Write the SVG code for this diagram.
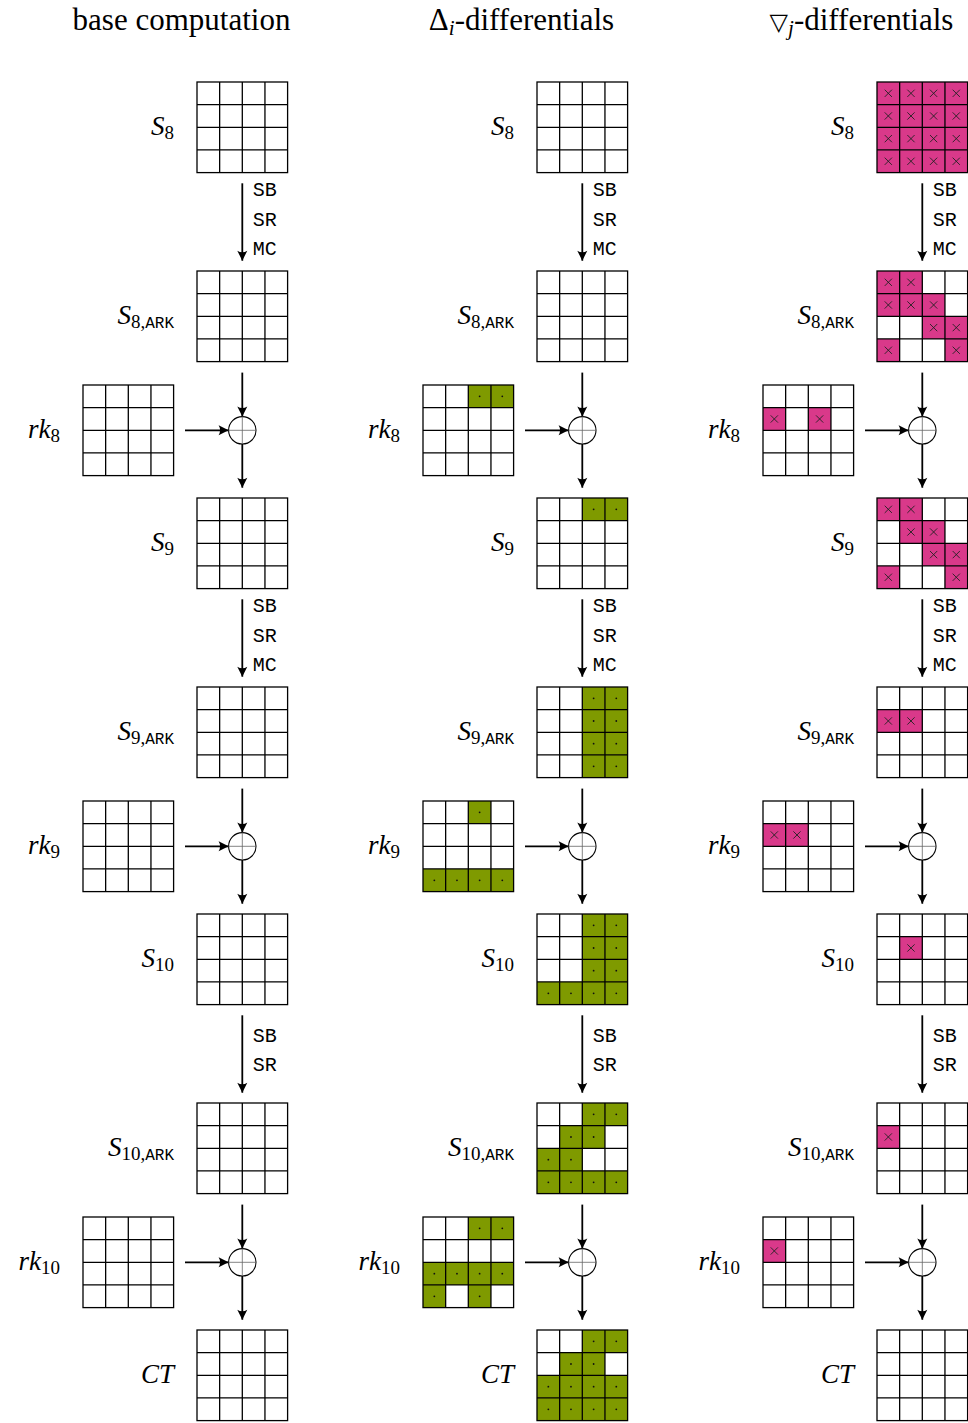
<svg xmlns="http://www.w3.org/2000/svg" xmlns:xlink="http://www.w3.org/1999/xlink" width="968" height="1423" viewBox="0 0 968 1423">
<style>
.ln{stroke:#000;stroke-width:1.3;fill:none}
.arr{stroke:#000;stroke-width:1.8;fill:none;marker-end:url(#ah)}
.op{font-family:"Liberation Mono",monospace;font-size:20px;fill:#000}
.lbl{font-family:"Liberation Serif",serif;font-size:27px;font-style:italic;fill:#000}
.sub{font-style:normal;font-size:19px}
.tt{font-family:"Liberation Mono",monospace;font-style:normal;font-size:16px}
.ttl{font-family:"Liberation Serif",serif;font-size:31px;fill:#000}
.xor{fill:#fff;stroke:#000;stroke-width:1.1}
.xc{stroke:#666;stroke-width:0.8}
.pk{fill:#d9398a}
.gr{fill:#7f9a00}
.mk{stroke:#222;stroke-width:0.9}
</style>
<defs>
<marker id="ah" viewBox="-11 -6 12 12" refX="0" refY="0" markerWidth="12" markerHeight="12" markerUnits="userSpaceOnUse" orient="auto"><path d="M0,0 L-10,-5 Q-7,0 -10,5 Z" fill="#000"/></marker>
<g id="grid"><rect width="90.6" height="90.6" fill="none" class="ln"/><path class="ln" d="M22.65 0V90.6M45.3 0V90.6M67.95 0V90.6M0 22.65H90.6M0 45.3H90.6M0 67.95H90.6"/></g>
<g id="pc"><rect class="pk" width="22.65" height="22.65"/><path class="mk" d="M7.7,7.7L14.95,14.95M7.7,14.95L14.95,7.7"/></g>
<g id="gc"><rect class="gr" width="22.65" height="22.65"/><circle cx="11.33" cy="11.33" r="0.9" fill="#111"/></g>
</defs>
<rect width="968" height="1423" fill="#fff"/>
<g id="titles">
<text class="ttl" x="181.5" y="30" text-anchor="middle">base computation</text>
<text class="ttl" x="521.5" y="30" text-anchor="middle">Δ<tspan font-style="italic" font-size="21" dy="5">i</tspan><tspan dy="-5">-differentials</tspan></text>
<text class="ttl" x="861.5" y="30" text-anchor="middle"><tspan font-family="DejaVu Sans" font-size="24">▽</tspan><tspan font-style="italic" font-size="21" dy="5">j</tspan><tspan dy="-5">-differentials</tspan></text>
</g>
<g id="connectors">
<g id="c1">
<path class="arr" d="M242.3 183.3V260.7"/>
<path class="arr" d="M242.3 372.6V416.6"/>
<path class="arr" d="M185 430.3H228.6"/>
<path class="arr" d="M242.3 444V487.7"/>
<path class="arr" d="M242.3 599.3V676.7"/>
<path class="arr" d="M242.3 788.6V832.6"/>
<path class="arr" d="M185 846.3H228.6"/>
<path class="arr" d="M242.3 860V903.7"/>
<path class="arr" d="M242.3 1015.3V1092.7"/>
<path class="arr" d="M242.3 1204.6V1248.6"/>
<path class="arr" d="M185 1262.3H228.6"/>
<path class="arr" d="M242.3 1276V1319.7"/>
<circle class="xor" cx="242.3" cy="430.3" r="13.7"/><path class="xc" d="M228.6 430.3H256M242.3 416.6V444"/>
<circle class="xor" cx="242.3" cy="846.3" r="13.7"/><path class="xc" d="M228.6 846.3H256M242.3 832.6V860"/>
<circle class="xor" cx="242.3" cy="1262.3" r="13.7"/><path class="xc" d="M228.6 1262.3H256M242.3 1248.6V1276"/>
<text class="op" x="252.7" y="196">SB</text><text class="op" x="252.7" y="225.5">SR</text><text class="op" x="252.7" y="255">MC</text>
<text class="op" x="252.7" y="612">SB</text><text class="op" x="252.7" y="641.5">SR</text><text class="op" x="252.7" y="671">MC</text>
<text class="op" x="252.7" y="1042">SB</text><text class="op" x="252.7" y="1071">SR</text>
</g>
<use xlink:href="#c1" href="#c1" x="340"/>
<use xlink:href="#c1" href="#c1" x="680"/>
</g>
<g id="col1">
<g id="b-S8"><use href="#grid" x="197" y="82"/><text class="lbl" x="174" y="135.3" text-anchor="end">S<tspan class="sub" dy="4">8</tspan></text></g>
<g id="b-S8ARK"><use href="#grid" x="197" y="271"/><text class="lbl" x="174" y="324.3" text-anchor="end">S<tspan class="sub" dy="4">8,</tspan><tspan class="tt">ARK</tspan></text></g>
<g id="b-rk8"><use href="#grid" x="83" y="385"/><text class="lbl" x="60" y="438.3" text-anchor="end">rk<tspan class="sub" dy="4">8</tspan></text></g>
<g id="b-S9"><use href="#grid" x="197" y="498"/><text class="lbl" x="174" y="551.3" text-anchor="end">S<tspan class="sub" dy="4">9</tspan></text></g>
<g id="b-S9ARK"><use href="#grid" x="197" y="687"/><text class="lbl" x="174" y="740.3" text-anchor="end">S<tspan class="sub" dy="4">9,</tspan><tspan class="tt">ARK</tspan></text></g>
<g id="b-rk9"><use href="#grid" x="83" y="801"/><text class="lbl" x="60" y="854.3" text-anchor="end">rk<tspan class="sub" dy="4">9</tspan></text></g>
<g id="b-S10"><use href="#grid" x="197" y="914"/><text class="lbl" x="174" y="967.3" text-anchor="end">S<tspan class="sub" dy="4">10</tspan></text></g>
<g id="b-S10ARK"><use href="#grid" x="197" y="1103"/><text class="lbl" x="174" y="1156.3" text-anchor="end">S<tspan class="sub" dy="4">10,</tspan><tspan class="tt">ARK</tspan></text></g>
<g id="b-rk10"><use href="#grid" x="83" y="1217"/><text class="lbl" x="60" y="1270.3" text-anchor="end">rk<tspan class="sub" dy="4">10</tspan></text></g>
<g id="b-CT"><use href="#grid" x="197" y="1330"/><text class="lbl" x="174" y="1383.3" text-anchor="end">CT</text></g>
</g>
<g id="col2">
<g id="d-S8"><use href="#grid" x="537" y="82"/><text class="lbl" x="514" y="135.3" text-anchor="end">S<tspan class="sub" dy="4">8</tspan></text></g>
<g id="d-S8ARK"><use href="#grid" x="537" y="271"/><text class="lbl" x="514" y="324.3" text-anchor="end">S<tspan class="sub" dy="4">8,</tspan><tspan class="tt">ARK</tspan></text></g>
<g id="d-rk8" transform="translate(423,385)"><use href="#gc" x="45.3" y="0"/><use href="#gc" x="67.95" y="0"/><use href="#grid"/><text class="lbl" x="-23" y="53.3" text-anchor="end">rk<tspan class="sub" dy="4">8</tspan></text></g>
<g id="d-S9" transform="translate(537,498)"><use href="#gc" x="45.3" y="0"/><use href="#gc" x="67.95" y="0"/><use href="#grid"/><text class="lbl" x="-23" y="53.3" text-anchor="end">S<tspan class="sub" dy="4">9</tspan></text></g>
<g id="d-S9ARK" transform="translate(537,687)"><use href="#gc" x="45.3" y="0"/><use href="#gc" x="67.95" y="0"/><use href="#gc" x="45.3" y="22.65"/><use href="#gc" x="67.95" y="22.65"/><use href="#gc" x="45.3" y="45.3"/><use href="#gc" x="67.95" y="45.3"/><use href="#gc" x="45.3" y="67.95"/><use href="#gc" x="67.95" y="67.95"/><use href="#grid"/><text class="lbl" x="-23" y="53.3" text-anchor="end">S<tspan class="sub" dy="4">9,</tspan><tspan class="tt">ARK</tspan></text></g>
<g id="d-rk9" transform="translate(423,801)"><use href="#gc" x="45.3" y="0"/><use href="#gc" x="0" y="67.95"/><use href="#gc" x="22.65" y="67.95"/><use href="#gc" x="45.3" y="67.95"/><use href="#gc" x="67.95" y="67.95"/><use href="#grid"/><text class="lbl" x="-23" y="53.3" text-anchor="end">rk<tspan class="sub" dy="4">9</tspan></text></g>
<g id="d-S10" transform="translate(537,914)"><use href="#gc" x="45.3" y="0"/><use href="#gc" x="67.95" y="0"/><use href="#gc" x="45.3" y="22.65"/><use href="#gc" x="67.95" y="22.65"/><use href="#gc" x="45.3" y="45.3"/><use href="#gc" x="67.95" y="45.3"/><use href="#gc" x="0" y="67.95"/><use href="#gc" x="22.65" y="67.95"/><use href="#gc" x="45.3" y="67.95"/><use href="#gc" x="67.95" y="67.95"/><use href="#grid"/><text class="lbl" x="-23" y="53.3" text-anchor="end">S<tspan class="sub" dy="4">10</tspan></text></g>
<g id="d-S10ARK" transform="translate(537,1103)"><use href="#gc" x="45.3" y="0"/><use href="#gc" x="67.95" y="0"/><use href="#gc" x="22.65" y="22.65"/><use href="#gc" x="45.3" y="22.65"/><use href="#gc" x="0" y="45.3"/><use href="#gc" x="22.65" y="45.3"/><use href="#gc" x="0" y="67.95"/><use href="#gc" x="22.65" y="67.95"/><use href="#gc" x="45.3" y="67.95"/><use href="#gc" x="67.95" y="67.95"/><use href="#grid"/><text class="lbl" x="-23" y="53.3" text-anchor="end">S<tspan class="sub" dy="4">10,</tspan><tspan class="tt">ARK</tspan></text></g>
<g id="d-rk10" transform="translate(423,1217)"><use href="#gc" x="45.3" y="0"/><use href="#gc" x="67.95" y="0"/><use href="#gc" x="0" y="45.3"/><use href="#gc" x="22.65" y="45.3"/><use href="#gc" x="45.3" y="45.3"/><use href="#gc" x="67.95" y="45.3"/><use href="#gc" x="0" y="67.95"/><use href="#gc" x="45.3" y="67.95"/><use href="#grid"/><text class="lbl" x="-23" y="53.3" text-anchor="end">rk<tspan class="sub" dy="4">10</tspan></text></g>
<g id="d-CT" transform="translate(537,1330)"><use href="#gc" x="45.3" y="0"/><use href="#gc" x="67.95" y="0"/><use href="#gc" x="22.65" y="22.65"/><use href="#gc" x="45.3" y="22.65"/><use href="#gc" x="0" y="45.3"/><use href="#gc" x="22.65" y="45.3"/><use href="#gc" x="45.3" y="45.3"/><use href="#gc" x="67.95" y="45.3"/><use href="#gc" x="0" y="67.95"/><use href="#gc" x="22.65" y="67.95"/><use href="#gc" x="45.3" y="67.95"/><use href="#gc" x="67.95" y="67.95"/><use href="#grid"/><text class="lbl" x="-23" y="53.3" text-anchor="end">CT</text></g>
</g>
<g id="col3">
<g id="n-S8" transform="translate(877,82)"><use href="#pc" x="0" y="0"/><use href="#pc" x="22.65" y="0"/><use href="#pc" x="45.3" y="0"/><use href="#pc" x="67.95" y="0"/><use href="#pc" x="0" y="22.65"/><use href="#pc" x="22.65" y="22.65"/><use href="#pc" x="45.3" y="22.65"/><use href="#pc" x="67.95" y="22.65"/><use href="#pc" x="0" y="45.3"/><use href="#pc" x="22.65" y="45.3"/><use href="#pc" x="45.3" y="45.3"/><use href="#pc" x="67.95" y="45.3"/><use href="#pc" x="0" y="67.95"/><use href="#pc" x="22.65" y="67.95"/><use href="#pc" x="45.3" y="67.95"/><use href="#pc" x="67.95" y="67.95"/><use href="#grid"/><text class="lbl" x="-23" y="53.3" text-anchor="end">S<tspan class="sub" dy="4">8</tspan></text></g>
<g id="n-S8ARK" transform="translate(877,271)"><use href="#pc" x="0" y="0"/><use href="#pc" x="22.65" y="0"/><use href="#pc" x="0" y="22.65"/><use href="#pc" x="22.65" y="22.65"/><use href="#pc" x="45.3" y="22.65"/><use href="#pc" x="45.3" y="45.3"/><use href="#pc" x="67.95" y="45.3"/><use href="#pc" x="0" y="67.95"/><use href="#pc" x="67.95" y="67.95"/><use href="#grid"/><text class="lbl" x="-23" y="53.3" text-anchor="end">S<tspan class="sub" dy="4">8,</tspan><tspan class="tt">ARK</tspan></text></g>
<g id="n-rk8" transform="translate(763,385)"><use href="#pc" x="0" y="22.65"/><use href="#pc" x="45.3" y="22.65"/><use href="#grid"/><text class="lbl" x="-23" y="53.3" text-anchor="end">rk<tspan class="sub" dy="4">8</tspan></text></g>
<g id="n-S9" transform="translate(877,498)"><use href="#pc" x="0" y="0"/><use href="#pc" x="22.65" y="0"/><use href="#pc" x="22.65" y="22.65"/><use href="#pc" x="45.3" y="22.65"/><use href="#pc" x="45.3" y="45.3"/><use href="#pc" x="67.95" y="45.3"/><use href="#pc" x="0" y="67.95"/><use href="#pc" x="67.95" y="67.95"/><use href="#grid"/><text class="lbl" x="-23" y="53.3" text-anchor="end">S<tspan class="sub" dy="4">9</tspan></text></g>
<g id="n-S9ARK" transform="translate(877,687)"><use href="#pc" x="0" y="22.65"/><use href="#pc" x="22.65" y="22.65"/><use href="#grid"/><text class="lbl" x="-23" y="53.3" text-anchor="end">S<tspan class="sub" dy="4">9,</tspan><tspan class="tt">ARK</tspan></text></g>
<g id="n-rk9" transform="translate(763,801)"><use href="#pc" x="0" y="22.65"/><use href="#pc" x="22.65" y="22.65"/><use href="#grid"/><text class="lbl" x="-23" y="53.3" text-anchor="end">rk<tspan class="sub" dy="4">9</tspan></text></g>
<g id="n-S10" transform="translate(877,914)"><use href="#pc" x="22.65" y="22.65"/><use href="#grid"/><text class="lbl" x="-23" y="53.3" text-anchor="end">S<tspan class="sub" dy="4">10</tspan></text></g>
<g id="n-S10ARK" transform="translate(877,1103)"><use href="#pc" x="0" y="22.65"/><use href="#grid"/><text class="lbl" x="-23" y="53.3" text-anchor="end">S<tspan class="sub" dy="4">10,</tspan><tspan class="tt">ARK</tspan></text></g>
<g id="n-rk10" transform="translate(763,1217)"><use href="#pc" x="0" y="22.65"/><use href="#grid"/><text class="lbl" x="-23" y="53.3" text-anchor="end">rk<tspan class="sub" dy="4">10</tspan></text></g>
<g id="n-CT" transform="translate(877,1330)"><use href="#grid"/><text class="lbl" x="-23" y="53.3" text-anchor="end">CT</text></g>
</g>
</svg>
